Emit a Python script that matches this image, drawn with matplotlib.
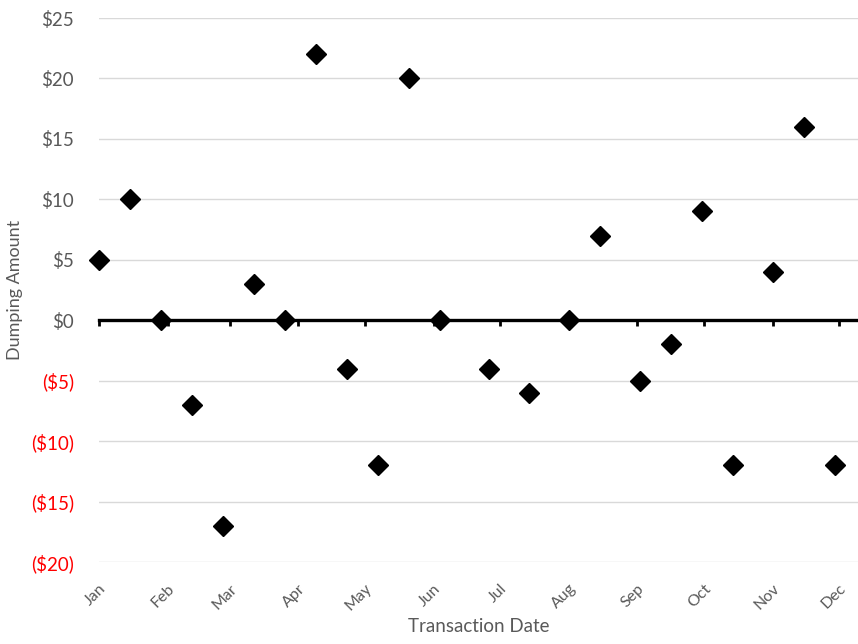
import matplotlib
matplotlib.use("Agg")
import matplotlib.pyplot as plt
import matplotlib.dates as mdates
import numpy as np
import pandas as pd

# data
dates = [
    "2023-01-01", "2023-01-15", "2023-01-29", "2023-02-12", "2023-02-26",
    "2023-03-12", "2023-03-26", "2023-04-09", "2023-04-23", "2023-05-07",
    "2023-05-21", "2023-06-04", "2023-06-26", "2023-07-14", "2023-08-01",
    "2023-08-15", "2023-09-02", "2023-09-16", "2023-09-30", "2023-10-14",
    "2023-11-01", "2023-11-15", "2023-11-29",
]
amounts = [5, 10, 0, -7, -17, 3, 0, 22, -4, -12, 20, 0,
           -4, -6, 0, 7, -5, -2, 9, -12, 4, 16, -12]
y_ticks = [-20, -15, -10, -5, 0, 5, 10, 15, 20, 25]
x_start = "2023-01-01"
x_end = "2023-12-09 14:00"

plt.rcParams["font.family"] = ["Lato", "DejaVu Sans"]
gray = "#595959"

x = pd.to_datetime(dates)

fig = plt.figure(figsize=(8.58, 6.44), dpi=100)
ax = fig.add_axes([0.1154, 0.1273, 0.8846, 0.8447])

ax.set_xlim(pd.Timestamp(x_start), pd.Timestamp(x_end))
ax.set_ylim(-20, 25)

# grid
ax.set_yticks(y_ticks)
ax.yaxis.grid(True, color="#d9d9d9", linewidth=1)
ax.set_axisbelow(True)
for s in ax.spines.values():
    s.set_visible(False)


def money(v):
    return f"${v:.0f}" if v >= 0 else f"(${-v:.0f})"


ax.set_yticklabels([money(v) for v in y_ticks])
for lab, v in zip(ax.get_yticklabels(), y_ticks):
    lab.set_color("#ff0000" if v < 0 else gray)
ax.tick_params(axis="y", length=0, pad=18, labelsize=13.5)

# month labels at the bottom
ax.xaxis.set_major_locator(mdates.MonthLocator())
ax.xaxis.set_major_formatter(mdates.DateFormatter("%b"))
ax.tick_params(axis="x", length=0, pad=14, labelsize=11.5, labelcolor=gray)
for lab in ax.get_xticklabels():
    lab.set_rotation(45)
    lab.set_ha("right")
    lab.set_va("top")
    lab.set_rotation_mode("anchor")

# zero axis line with tick marks
ax2 = ax.twiny()
ax2.set_xlim(ax.get_xlim())
for s in ax2.spines.values():
    s.set_visible(False)
ax2.spines["bottom"].set_visible(True)
ax2.spines["bottom"].set_position(("data", 0))
ax2.spines["bottom"].set_linewidth(2.4)
ax2.spines["bottom"].set_color("black")
ax2.xaxis.set_ticks_position("bottom")
ax2.xaxis.set_major_locator(mdates.MonthLocator())
ax2.tick_params(axis="x", direction="out", length=4, width=2,
                labelbottom=False, labeltop=False, top=False)

# points
ax2.plot(x, amounts, linestyle="none", marker="D", markersize=10.5,
         color="black", clip_on=False, zorder=5)

ax.set_ylabel("Dumping Amount", fontsize=13, color=gray, labelpad=6)
ax.set_xlabel("Transaction Date", fontsize=13.5, color=gray, labelpad=3)

fig.savefig("out.png", dpi=100)
